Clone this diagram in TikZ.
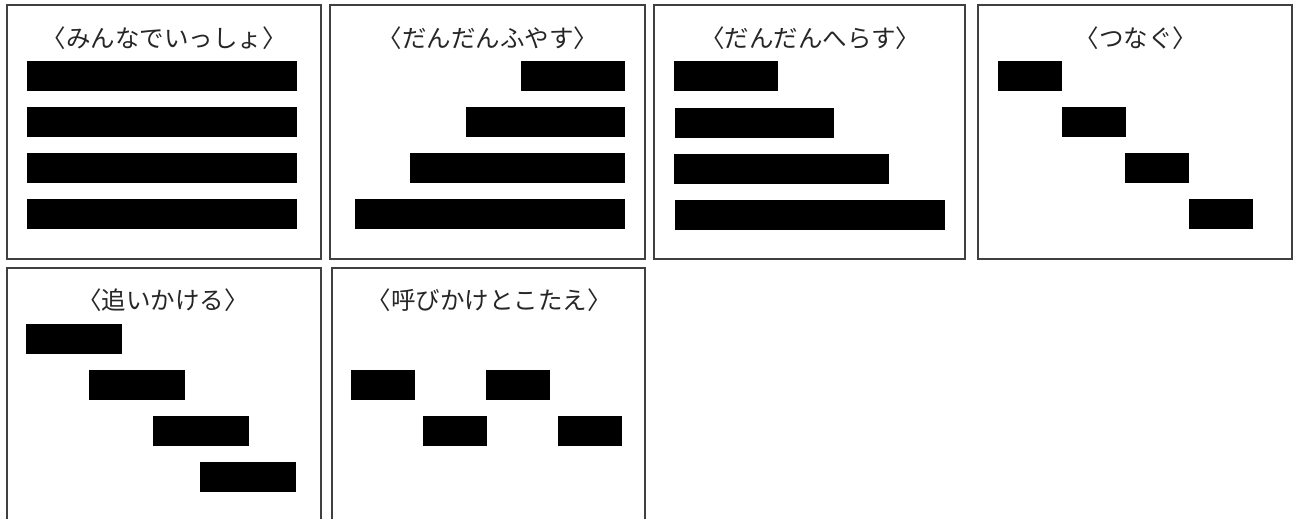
\documentclass[tikz,border=0pt]{standalone}
\usepackage{fontspec}
\newfontfamily\cjk{Noto Sans CJK JP}
\begin{document}
\begin{tikzpicture}[x=1pt,y=-1pt,
  panel/.style={draw=black!75,line width=1.3pt},
  bar/.style={fill=black},
  ttl/.style={font=\cjk\fontsize{24.5}{28}\selectfont,text=black!85,inner sep=0pt,anchor=center}]
\useasboundingbox[fill=white] (0,0) rectangle (1295,519);
% top row panels
\draw[panel] (7,5) rectangle (321,259);
\draw[panel] (330,5) rectangle (645,259);
\draw[panel] (654,5) rectangle (965,259);
\draw[panel] (978,5) rectangle (1292,259);
% bottom row panels (open at bottom)
\draw[panel] (7,519) -- (7,268) -- (321,268) -- (321,519);
\draw[panel] (332,519) -- (332,268) -- (645,268) -- (645,519);
% titles
\node[ttl] (t1) at (164,38) {〈みんなでいっしょ〉};
\node[ttl] (t2) at (488,38) {〈だんだんふやす〉};
\node[ttl] (t3) at (810,38) {〈だんだんへらす〉};
\node[ttl] (t4) at (1136,38) {〈つなぐ〉};
\node[ttl] (t5) at (163,300) {〈追いかける〉};
\node[ttl] (t6) at (489,300) {〈呼びかけとこたえ〉};
% panel 1
\fill[bar] (27,61) rectangle (297,91);
\fill[bar] (27,107) rectangle (297,137);
\fill[bar] (27,153) rectangle (297,183);
\fill[bar] (27,199) rectangle (297,229);
% panel 2
\fill[bar] (521,61) rectangle (625,91);
\fill[bar] (466,107) rectangle (625,137);
\fill[bar] (410,153) rectangle (625,183);
\fill[bar] (355,199) rectangle (625,229);
% panel 3
\fill[bar] (674,61) rectangle (778,91);
\fill[bar] (675,108) rectangle (834,138);
\fill[bar] (674,154) rectangle (889,184);
\fill[bar] (675,200) rectangle (945,230);
% panel 4
\fill[bar] (998,61) rectangle (1062,91);
\fill[bar] (1062,107) rectangle (1126,137);
\fill[bar] (1125,153) rectangle (1189,183);
\fill[bar] (1189,199) rectangle (1253,229);
% panel 5
\fill[bar] (26,324) rectangle (122,354);
\fill[bar] (89,370) rectangle (185,400);
\fill[bar] (153,416) rectangle (249,446);
\fill[bar] (200,462) rectangle (296,492);
% panel 6
\fill[bar] (351,370) rectangle (415,400);
\fill[bar] (486,370) rectangle (550,400);
\fill[bar] (423,416) rectangle (487,446);
\fill[bar] (558,416) rectangle (622,446);
\end{tikzpicture}
\end{document}
